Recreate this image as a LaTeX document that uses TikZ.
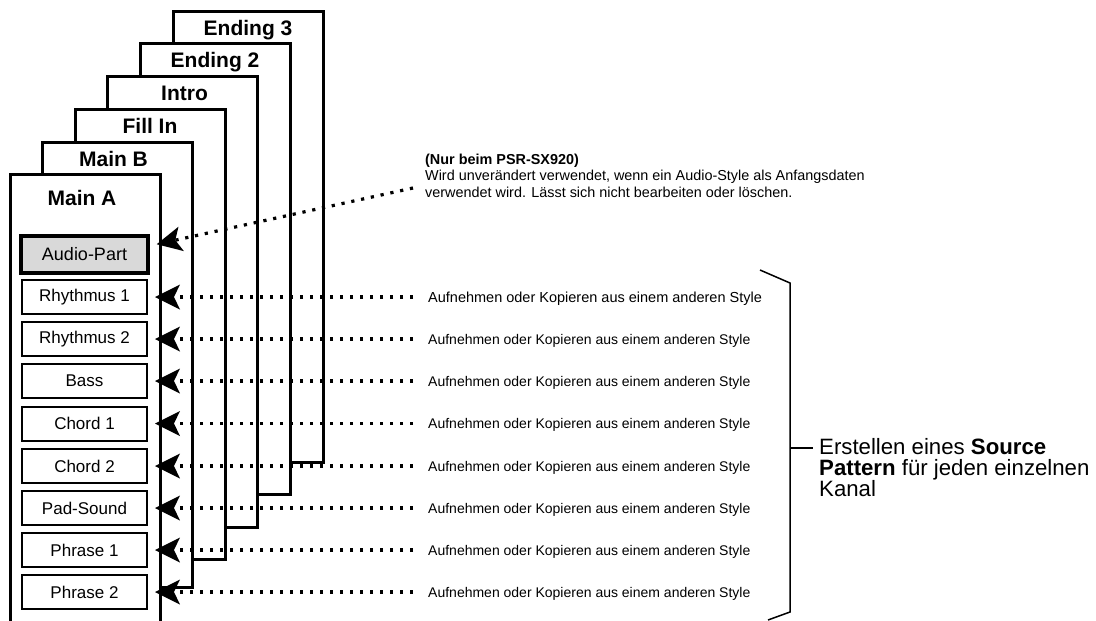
\documentclass[tikz,border=0pt]{standalone}
\usepackage{fontspec}
\setmainfont{Liberation Sans}
\usetikzlibrary{arrows.meta,calc}
\begin{document}
\begin{tikzpicture}[x=1pt,y=-1pt,
  frame/.style={draw=black,line width=3pt,fill=white,minimum width=150pt,inner sep=0pt},
  ftitle/.style={font=\fontsize{21}{24}\selectfont\bfseries,inner sep=0pt,anchor=base},
  chan/.style={draw=black,line width=2pt,fill=white,minimum width=125pt,minimum height=34pt,inner sep=0pt,font=\fontsize{17}{19}\selectfont},
  audio/.style={chan,line width=3.5pt,fill=black!15,minimum width=127pt,minimum height=37pt,font=\fontsize{18}{20}\selectfont},
  rowtext/.style={anchor=base west,inner sep=0pt,font=\fontsize{14}{16}\selectfont},
  dotline/.style={line width=3.2pt,dash pattern=on 3.2pt off 6.8pt,
     -{Stealth[length=25pt,width=25pt,inset=6pt,line width=0pt]}},
  brace/.style={line width=1.5pt}
]
\path[use as bounding box,clip] (0,0) rectangle (1096,621);
\fill[white] (0,0) rectangle (1096,621);
% stacked pages
\node[frame,minimum height=451pt] (e3) at (248,236.5) {};
\node[ftitle] (e3t) at ([yshift=-25.5pt]e3.north) {Ending 3};
\node[frame,minimum height=451pt] (e2) at (215,268.5) {};
\node[ftitle] (e2t) at ([yshift=-25.5pt]e2.north) {Ending 2};
\node[frame,minimum height=451pt] (in) at (182.5,301.5) {};
\node[ftitle] (int) at ([xshift=2pt,yshift=-25.5pt]in.north) {Intro};
\node[frame,minimum height=450pt] (fi) at (150,334) {};
\node[ftitle] (fit) at ([yshift=-25.5pt]fi.north) {Fill In};
\node[frame,minimum height=445pt] (mb) at (117.5,364.5) {};
\node[ftitle] (mbt) at ([xshift=-4pt,yshift=-25.5pt]mb.north) {Main B};
\fill[white] (10,174) rectangle (160,640);
\draw[line width=3pt] (10,640) -- (10,174) -- (160,174) -- (160,640);
\node[ftitle] (mat) at (82,205) {Main A};
% channels
\node[audio] (c0) at (84.5,254.5) {Audio-Part};
\node[chan] (c1) at (84.5,297) {Rhythmus 1};
\node[chan] (c2) at (84.5,339) {Rhythmus 2};
\node[chan] (c3) at (84.5,381) {Bass};
\node[chan] (c4) at (84.5,423.5) {Chord 1};
\node[chan] (c5) at (84.5,466) {Chord 2};
\node[chan] (c6) at (84.5,508) {Pad-Sound};
\node[chan] (c7) at (84.5,550) {Phrase 1};
\node[chan] (c8) at (84.5,592) {Phrase 2};
% row texts
\node[rowtext,font=\fontsize{14.5}{16}\selectfont] (r1) at (428,302.5) {Aufnehmen oder Kopieren aus einem anderen Style};
\node[rowtext] (r2) at (428,344) {Aufnehmen oder Kopieren aus einem anderen Style};
\node[rowtext] (r3) at (428,386) {Aufnehmen oder Kopieren aus einem anderen Style};
\node[rowtext] (r4) at (428,428.5) {Aufnehmen oder Kopieren aus einem anderen Style};
\node[rowtext] (r5) at (428,471) {Aufnehmen oder Kopieren aus einem anderen Style};
\node[rowtext] (r6) at (428,513) {Aufnehmen oder Kopieren aus einem anderen Style};
\node[rowtext] (r7) at (428,555) {Aufnehmen oder Kopieren aus einem anderen Style};
\node[rowtext] (r8) at (428,597) {Aufnehmen oder Kopieren aus einem anderen Style};
\foreach \i in {1,...,8}{
  \draw[dotline,shorten >=7pt] ([xshift=-15pt]c\i.east -| r\i.west) -- (c\i.east);
}
% note
\node[anchor=north west,inner sep=0pt,align=left,font=\fontsize{14.4}{16.5}\selectfont] (note) at (425,153.5)
  {\textbf{(Nur beim PSR-SX920)}\\Wird unverändert verwendet, wenn ein Audio-Style als Anfangsdaten\\verwendet wird. Lässt sich nicht bearbeiten oder löschen.};
\coordinate (ne) at (413,188);
\draw[dotline] (ne) -- ($(c0.north east)+(7,10)$);
% brace
\draw[brace] (760,270) -- (790,283) coordinate (bt) -- (790,612) -- (768,620);
\coordinate (bm) at (790,448);
\node[anchor=west,inner sep=0pt,align=left,font=\fontsize{22.2}{21}\selectfont] (bx) at (819,468)
  {Erstellen eines \textbf{Source}\\\textbf{Pattern} für jeden einzelnen\\Kanal};
\draw[brace] (bm) -- ([xshift=-6pt]bx.west |- bm);
\end{tikzpicture}
\end{document}
